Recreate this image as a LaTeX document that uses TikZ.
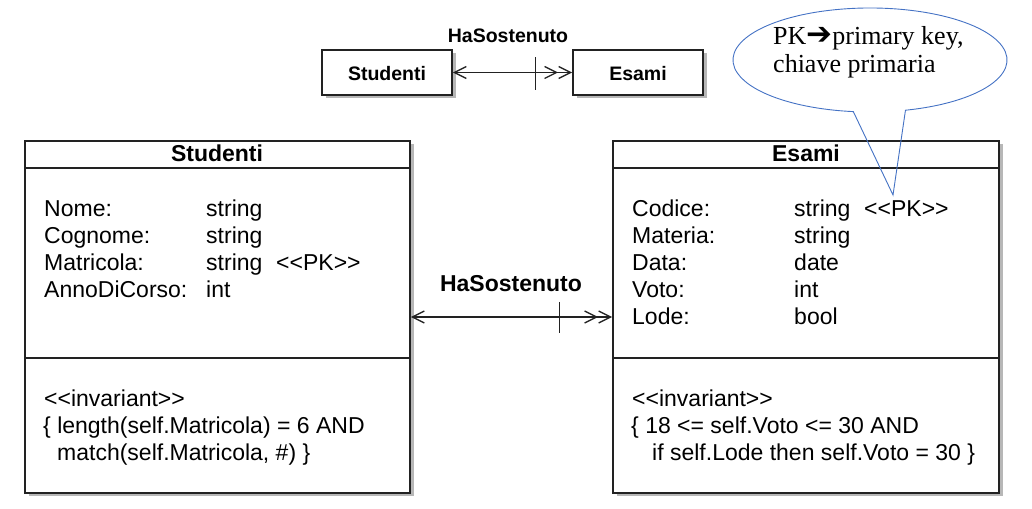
\documentclass[tikz,border=0pt]{standalone}
\usepackage{fontspec}
\setmainfont{Liberation Sans}
\newfontfamily\calloutfont{Liberation Serif}
\newfontfamily\dejavu{DejaVu Sans}
\usetikzlibrary{arrows.meta,shadows,calc}
\definecolor{calloutblue}{HTML}{4472C4}
\definecolor{linegray}{HTML}{222222}
\begin{document}
\begin{tikzpicture}[x=1pt,y=1pt,
  classbox/.style={draw=linegray, line width=1.8pt, fill=white, rectangle, inner sep=0pt,
    drop shadow={shadow xshift=3.5pt,shadow yshift=-3.5pt,opacity=0.4,fill=black!70}},
  sepline/.style={draw=linegray, line width=1.8pt},
  txt/.style={anchor=base west, inner sep=0pt, font=\fontsize{23}{27}\selectfont},
  ttl/.style={anchor=base, inner sep=0pt, font=\fontsize{23}{27}\selectfont\bfseries},
  smalltxt/.style={anchor=base, inner sep=0pt, font=\fontsize{19.5}{23}\selectfont\bfseries},
  >={Straight Barb[length=12pt,width=12pt]},
  assoc/.style={draw=linegray, line width=1.3pt, <->>},
  tickline/.style={draw=linegray, line width=1.3pt},
  callout/.style={draw=calloutblue, line width=0.9pt},
  calltxt/.style={anchor=base west, inner sep=0pt, font=\calloutfont\fontsize{26}{29}\selectfont}
]
\useasboundingbox (0,0) rectangle (1032,508);

% small overview boxes
\node[classbox, minimum width=130pt, minimum height=45pt] (sS) at (387,435.5) {};
\node[classbox, minimum width=130pt, minimum height=45pt] (sE) at (638,435.5) {};
\node[smalltxt] (sSt) at (387,427.3) {Studenti};
\node[smalltxt] (sEt) at (638,427.3) {Esami};
\node[smalltxt] (topl) at (508,465) {HaSostenuto};
\draw[assoc] (sS.east) -- coordinate[pos=0.694] (t1) (sE.west);
\draw[tickline] ($(t1)+(0,15)$) -- ($(t1)+(0,-18)$);

% class boxes
\node[classbox, minimum width=385pt, minimum height=352pt] (lS) at (217.5,191) {};
\node[classbox, minimum width=386pt, minimum height=352pt] (rE) at (806,191) {};
\draw[sepline] (lS.west |- 0,340) -- (lS.east |- 0,340);
\draw[sepline] (lS.west |- 0,150) -- (lS.east |- 0,150);
\draw[sepline] (rE.west |- 0,340) -- (rE.east |- 0,340);
\draw[sepline] (rE.west |- 0,150) -- (rE.east |- 0,150);

\node[ttl] (lT) at (217,346) {Studenti};
\node[ttl] (rT) at (806,346) {Esami};

% Studenti attributes
\node[txt] (a1) at (44,291) {Nome:};
\node[txt] (a2) at (44,264) {Cognome:};
\node[txt] (a3) at (44,237) {Matricola:};
\node[txt] (a4) at (44,210) {AnnoDiCorso:};
\node[txt] (b1) at (206,291) {string};
\node[txt] (b2) at (206,264) {string};
\node[txt] (b3) at (206,237) {string};
\node[txt] (b4) at (206,210) {int};
\node[txt] (pk1) at (276,237) {<{}<PK>{}>};
\node[txt] (i1) at (44,101) {<{}<invariant>{}>};
\node[txt] (i2) at (43,74) {\{ length(self.Matricola) = 6 AND};
\node[txt] (i3) at (57,47) {match(self.Matricola, \#) \}};

% Esami attributes
\node[txt] (c1) at (632,291) {Codice:};
\node[txt] (c2) at (632,264) {Materia:};
\node[txt] (c3) at (632,237) {Data:};
\node[txt] (c4) at (632,210) {Voto:};
\node[txt] (c5) at (632,183) {Lode:};
\node[txt] (d1) at (794,291) {string};
\node[txt] (d2) at (794,264) {string};
\node[txt] (d3) at (794,237) {date};
\node[txt] (d4) at (794,210) {int};
\node[txt] (d5) at (794,183) {bool};
\node[txt] (pk2) at (864,291) {<{}<PK>{}>};
\node[txt] (j1) at (632,101) {<{}<invariant>{}>};
\node[txt] (j2) at (631,74) {\{ 18 <= self.Voto <= 30 AND};
\node[txt] (j3) at (652,47) {if self.Lode then self.Voto = 30 \}};

% main association
\node[ttl] (midl) at (511,216) {HaSostenuto};
\draw[assoc] (lS.east) -- coordinate[pos=0.739] (t2) (rE.west);
\draw[tickline] ($(t2)+(0,15)$) -- ($(t2)+(0,-16)$);

% callout
\draw[callout] (905.46,397.77) arc[start angle=285, end angle=623, x radius=137, y radius=52] -- (893,313) -- cycle;
\node[calltxt] (cl1) at (773,463) {PK{\dejavu\fontsize{31}{29}\selectfont ➔}primary key,};
\node[calltxt] (cl2) at (773,435) {chiave primaria};
\end{tikzpicture}
\end{document}
